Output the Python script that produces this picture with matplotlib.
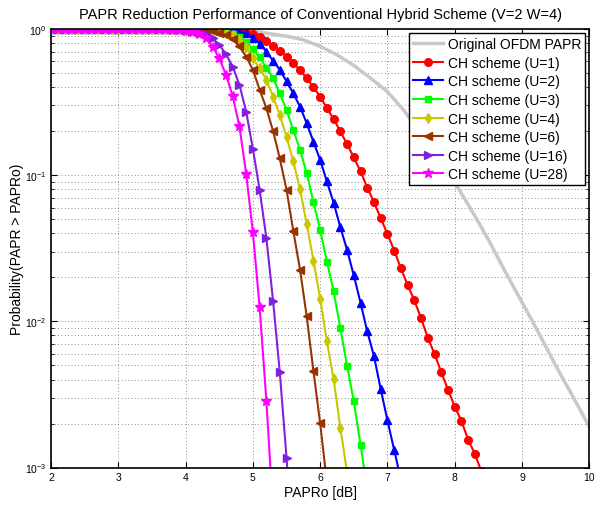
import numpy as np
import matplotlib
matplotlib.use("Agg")
import matplotlib.pyplot as plt
from matplotlib.ticker import LogLocator, FixedLocator

plt.rcParams.update({"font.family": ["Liberation Sans", "DejaVu Sans"], "font.size": 8})

# PAPR threshold grid (dB), markers every 0.1 dB
papr_db = np.round(np.arange(2.0, 10.01, 0.1), 1)

ones = lambda n: [1.0] * n  # flat part of each CCDF (prob = 1)

# CCDF values, starting at 2.0 dB
ccdf_u1 = ones(24) + [0.998, 0.995, 0.991, 0.984, 0.973, 0.955, 0.923, 0.881, 0.832, 0.769,
                      0.708, 0.647, 0.585, 0.521, 0.460, 0.399, 0.344, 0.287, 0.242, 0.199,
                      0.163, 0.132, 0.106, 0.0822, 0.0652, 0.0507, 0.0396, 0.0305, 0.0231, 0.0177,
                      0.0139, 0.0105, 0.00774, 0.00598, 0.00449, 0.00341, 0.00261, 0.00208, 0.00155, 0.00124,
                      0.00093]
ccdf_u2 = ones(23) + [0.998, 0.995, 0.993, 0.989, 0.982, 0.966, 0.933, 0.871, 0.794, 0.700,
                      0.604, 0.525, 0.437, 0.363, 0.294, 0.226, 0.169, 0.127, 0.0904, 0.0647,
                      0.0440, 0.0308, 0.0206, 0.0134, 0.00853, 0.00578, 0.00344, 0.00210, 0.00132, 0.00083]
ccdf_u3 = ones(21) + [0.998, 0.995, 0.991, 0.984, 0.973, 0.955, 0.927, 0.881, 0.811, 0.730,
                      0.637, 0.543, 0.460, 0.363, 0.279, 0.204, 0.149, 0.103, 0.0655, 0.0422,
                      0.0256, 0.0161, 0.00897, 0.00497, 0.00283, 0.00143, 0.00071]
ccdf_u4 = ones(20) + [0.998, 0.995, 0.993, 0.989, 0.979, 0.966, 0.944, 0.912, 0.841, 0.750,
                      0.630, 0.538, 0.448, 0.344, 0.258, 0.183, 0.124, 0.0805, 0.0463, 0.0260,
                      0.0143, 0.00731, 0.00401, 0.00187, 0.00093]
ccdf_u6 = ones(19) + [0.998, 0.995, 0.993, 0.986, 0.977, 0.962, 0.938, 0.902, 0.851, 0.759,
                      0.646, 0.525, 0.383, 0.287, 0.200, 0.130, 0.0793, 0.0417, 0.0226, 0.0108,
                      0.00457, 0.00201, 0.00079]
ccdf_u16 = ones(17) + [0.998, 0.995, 0.991, 0.984, 0.973, 0.951, 0.916, 0.861, 0.778, 0.671,
                       0.552, 0.414, 0.272, 0.151, 0.0794, 0.0372, 0.0138, 0.00447, 0.00117, 0.00025]
ccdf_u28 = ones(16) + [0.998, 0.993, 0.989, 0.982, 0.971, 0.955, 0.927, 0.863, 0.757, 0.630,
                       0.484, 0.347, 0.215, 0.102, 0.0406, 0.0125, 0.00287, 0.0005]

# original OFDM (no reduction)
orig_x = [2.0, 4.0, 4.5, 5.0, 5.25, 5.5, 5.75, 6.0, 6.25, 6.5, 6.75, 7.0, 7.25, 7.5,
          7.75, 8.0, 8.25, 8.5, 8.75, 9.0, 9.25, 9.5, 9.75, 10.0]
orig_ccdf = [1.0, 0.998, 0.991, 0.966, 0.927, 0.891, 0.841, 0.759, 0.664, 0.562, 0.460,
             0.372, 0.275, 0.191, 0.132, 0.0891, 0.0575, 0.0363, 0.0219, 0.0135,
             0.0083, 0.0050, 0.0031, 0.0019]

labels = ["CH scheme (U=1)", "CH scheme (U=2)", "CH scheme (U=3)", "CH scheme (U=4)",
          "CH scheme (U=6)", "CH scheme (U=16)", "CH scheme (U=28)"]
series = [ccdf_u1, ccdf_u2, ccdf_u3, ccdf_u4, ccdf_u6, ccdf_u16, ccdf_u28]
colors = ["#ff0000", "#0000ff", "#00ff00", "#c8c800", "#993300", "#8020e0", "#ff00ff"]
markers = ["o", "^", "s", "d", "<", ">", "*"]
msizes = [5.5, 6, 4.5, 5, 6, 6, 7]

fig = plt.figure(figsize=(5.94, 5.06), dpi=100)
ax = fig.add_axes([0.086, 0.074, 0.906, 0.867])

ax.semilogy(orig_x, orig_ccdf, color="#c8c8c8", lw=2.5, label="Original OFDM PAPR")
for y, lab, c, m, ms in zip(series, labels, colors, markers, msizes):
    ax.semilogy(papr_db[:len(y)], y, color=c, marker=m, ms=ms, lw=1.5,
                mec=c, mfc=c, label=lab)

ax.set_xlim(2, 10)
ax.set_ylim(1e-3, 1)
ax.xaxis.set_major_locator(FixedLocator(range(2, 11)))
ax.yaxis.set_major_locator(LogLocator(base=10, numticks=10))
ax.yaxis.set_minor_locator(LogLocator(base=10, subs=np.arange(2, 10), numticks=10))
ax.grid(True, which="major", ls=(0, (1, 3)), color="#666666", lw=0.6)
ax.grid(True, which="minor", axis="y", ls=(0, (1, 3)), color="#666666", lw=0.6)
ax.tick_params(which="both", direction="in", top=True, right=True, labelsize=7.5)
ax.tick_params(which="minor", labelleft=False, length=2.5)
ax.tick_params(which="major", length=4)
for s in ax.spines.values():
    s.set_linewidth(1.2)

ax.set_title("PAPR Reduction Performance of Conventional Hybrid Scheme (V=2 W=4)",
             fontsize=10.5, pad=8)
ax.set_xlabel("PAPRo [dB]", fontsize=10, labelpad=2)
ax.set_ylabel("Probability(PAPR > PAPRo)", fontsize=10)
ax.yaxis.set_label_coords(-0.05, 0.5)

leg = ax.legend(loc="upper right", fontsize=10, fancybox=False, framealpha=1,
                edgecolor="black", borderaxespad=0.3, handlelength=2.2,
                handletextpad=0.3, labelspacing=0.33, borderpad=0.3)
leg.get_frame().set_linewidth(1.0)

fig.savefig("out.png", dpi=100)
